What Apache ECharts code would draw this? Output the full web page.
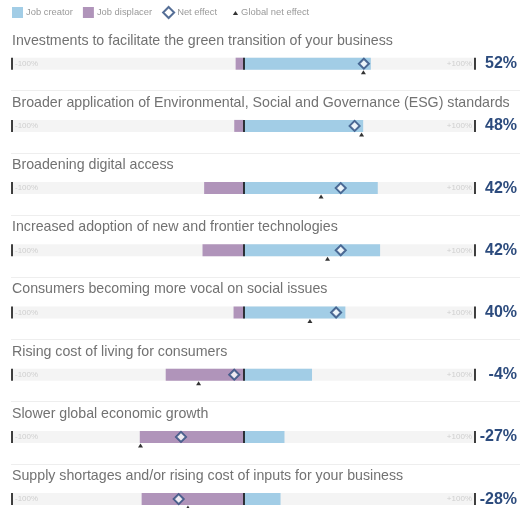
<!DOCTYPE html>
<html><head><meta charset="utf-8">
<script src="https://cdn.jsdelivr.net/npm/echarts@6/dist/echarts.min.js"></script>
<style>html,body{margin:0;padding:0;background:#fff}#c{width:520px;height:508px}</style>
</head><body><div id="c"></div>
<script>
// ---- data ----
const categories = [
  'Investments to facilitate the green transition of your business',
  'Broader application of Environmental, Social and Governance (ESG) standards',
  'Broadening digital access',
  'Increased adoption of new and frontier technologies',
  'Consumers becoming more vocal on social issues',
  'Rising cost of living for consumers',
  'Slower global economic growth',
  'Supply shortages and/or rising cost of inputs for your business'
];
const jobCreator      = [55, 51.7, 58, 59, 44, 29.6, 17.7, 16];
const jobDisplacer    = [-3.4, -4, -17, -17.7, -4.3, -33.6, -44.8, -44];
const netEffect       = [52, 48, 42, 42, 40, -4, -27, -28];
const globalNetEffect = [51.8, 51, 33.5, 36.3, 28.7, -19.4, -44.5, -24];
const tickValues = [-100, 100];
const tickLabels = ['-100%', '+100%'];
const seriesNames = ['Job creator', 'Job displacer', 'Net effect', 'Global net effect'];

// ---- layout / style ----
const ROW0 = 57.7, ROWH = 62.2, BARH = 12;
const BLUE = '#a2cde6', PURPLE = '#b094ba', NAVY = '#2c4b7d';
const rowTop = k => ROW0 + ROWH * k;
const fmtPct = v => v + '%';

const grids = [], xAxes = [], yAxes = [], series = [], titles = [], graphics = [];
categories.forEach((cat, k) => {
  grids.push({left: 12, right: 44, top: rowTop(k), height: BARH, show: true,
    backgroundColor: '#f4f4f4', borderWidth: 0});
  xAxes.push({gridIndex: k, type: 'value', min: -100, max: 100, interval: 100,
    splitLine: {show: false}, axisLine: {show: false}, axisTick: {show: false},
    axisLabel: {show: true, inside: true, margin: 6, verticalAlign: 'middle',
      showMinLabel: true, showMaxLabel: true,
      alignMinLabel: 'left', alignMaxLabel: 'right',
      formatter: v => v === tickValues[0] ? '{l|' + tickLabels[0] + '}' : (v === tickValues[1] ? '{r|' + tickLabels[1] + '}' : ''),
      rich: {l: {fontSize: 8, color: '#cfcfcf', padding: [0, 0, 0, 3]},
             r: {fontSize: 8, color: '#cfcfcf', padding: [0, 3, 0, 0]}}}});
  yAxes.push({gridIndex: k, type: 'category', data: [fmtPct(netEffect[k])], position: 'right',
    axisLine: {show: false}, axisTick: {show: false},
    axisLabel: {align: 'right', margin: 42, fontSize: 16, fontWeight: 'bold', color: NAVY}});
  titles.push({text: cat, left: 12, top: rowTop(k) - 24, padding: 0,
    textStyle: {fontSize: 14.2, fontWeight: 'normal', color: '#727272', fontFamily: 'Liberation Sans'}});
  if (k > 0) {
    const y = Math.round(rowTop(k) - 29.5) + 0.5;
    graphics.push({type: 'line', shape: {x1: 11, y1: y, x2: 520, y2: y},
      style: {stroke: '#eeeeee', lineWidth: 1}, silent: true});
  }
  series.push({name: seriesNames[0], type: 'bar', xAxisIndex: k, yAxisIndex: k, stack: 's' + k,
    barWidth: BARH, data: [jobCreator[k]], itemStyle: {color: BLUE}, silent: true});
  series.push({name: seriesNames[1], type: 'bar', xAxisIndex: k, yAxisIndex: k, stack: 's' + k,
    barWidth: BARH, data: [jobDisplacer[k]], itemStyle: {color: PURPLE}, silent: true, clip: false,
    markLine: {silent: true, symbol: 'none', animation: false, label: {show: false},
      lineStyle: {color: '#000', width: 1.5, type: 'solid'},
      data: [{xAxis: 0}, {xAxis: tickValues[0]}, {xAxis: tickValues[1]}]}});
  series.push({name: seriesNames[3], type: 'scatter', xAxisIndex: k, yAxisIndex: k,
    data: [[globalNetEffect[k], 0]], symbol: 'triangle', symbolSize: [5, 4], symbolOffset: [0, 8.5],
    itemStyle: {color: '#000'}, z: 4, silent: true, clip: false});
  series.push({name: seriesNames[2], type: 'scatter', xAxisIndex: k, yAxisIndex: k,
    data: [[netEffect[k], 0]], symbol: 'diamond', symbolSize: 10,
    itemStyle: {color: '#fff', borderColor: NAVY, borderWidth: 2}, z: 5, silent: true, clip: false});
});

const chart = echarts.init(document.getElementById('c'), null, {renderer: 'canvas'});
chart.setOption({
  animation: false,
  textStyle: {fontFamily: 'Liberation Sans'},
  title: titles,
  legend: {left: 12, top: 6, padding: 0, itemWidth: 11, itemHeight: 11, itemGap: 10, selectedMode: false,
    textStyle: {fontSize: 9.4, color: '#9a9a9a', padding: [0, 0, 0, -2]},
    data: [{name: seriesNames[0], icon: 'rect'}, {name: seriesNames[1], icon: 'rect'},
      {name: seriesNames[2], icon: 'diamond'},
      {name: seriesNames[3], icon: 'path://M0,0M10,10M5.5,7.5L8,3.5L10.5,7.5Z'}]},
  grid: grids, xAxis: xAxes, yAxis: yAxes, series: series, graphic: graphics
});
</script></body></html>
